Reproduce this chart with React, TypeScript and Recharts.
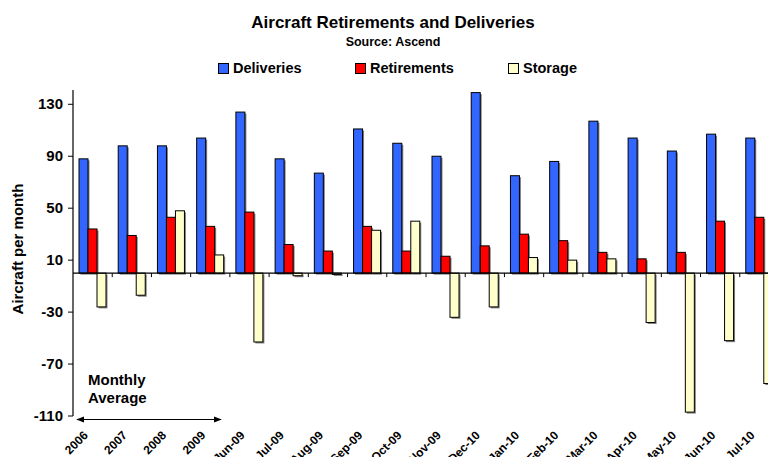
import React from "react";
import { BarChart, Bar, XAxis, YAxis, ReferenceLine } from "recharts";

// categorias (note: "Dec-10" is how the source labels it)
const categories = [
  "2006", "2007", "2008", "2009", "Jun-09", "Jul-09", "Aug-09", "Sep-09", "Oct-09",
  "Nov-09", "Dec-10", "Jan-10", "Feb-10", "Mar-10", "Apr-10", "May-10", "Jun-10", "Jul-10",
];
const deliveries = [88, 98, 98, 104, 124, 88, 77, 111, 100, 90, 139, 75, 86, 117, 104, 94, 107, 104];
const retirements = [34, 29, 43, 36, 47, 22, 17, 36, 17, 13, 21, 30, 25, 16, 11, 16, 40, 43];
const storage = [-26, -17, 48, 14, -53, -2, -1, 33, 40, -34, -26, 12, 10, 11, -38, -107, -52, -85];
const yTicks = [-110, -70, -30, 10, 50, 90, 130];

const FONT = "'Liberation Sans', Arial, sans-serif";

const data = categories.map((name, i) => ({
  name,
  deliveries: deliveries[i],
  retirements: retirements[i],
  storage: storage[i],
}));

const series = [
  { key: "deliveries", name: "Deliveries", color: "#3366FF" },
  { key: "retirements", name: "Retirements", color: "#FF0000" },
  { key: "storage", name: "Storage", color: "#FFFFCC" },
];

// barra com contorno preto e sombra cinza
const BoxBar = (props: any) => {
  const { x, y, width, height, fill } = props;
  const top = Math.min(y, y + height);
  const h = Math.abs(height);
  return (
    <g>
      <rect x={x + 1.5} y={top + 1.5} width={width} height={h} fill="#808080" />
      <rect x={x} y={top} width={width} height={h} fill={fill} stroke="#000" strokeWidth={1} />
    </g>
  );
};

// linha do zero com marcas entre as categorias
const ZeroLine = (props: any) => {
  const { x1, x2, y1 } = props;
  const step = (x2 - x1) / categories.length;
  return (
    <g>
      <line x1={x1} x2={x2} y1={y1} y2={y1} stroke="#000" strokeWidth={1.2} />
      {categories.map((_, i) => (
        <line key={i} x1={x1 + step * (i + 1)} x2={x1 + step * (i + 1)} y1={y1} y2={y1 + 4} stroke="#000" />
      ))}
    </g>
  );
};

const XTick = (props: any) => {
  const { x, y, payload } = props;
  const tx = x - 4;
  const ty = y + 20;
  return (
    <text x={tx} y={ty} textAnchor="end" fontFamily={FONT} fontWeight="bold" fontSize={12} fill="#000"
      transform={`rotate(-45, ${tx}, ${ty})`}>
      {payload.value}
    </text>
  );
};

const YTick = (props: any) => {
  const { x, y, payload } = props;
  return (
    <text x={x} y={y + 5} textAnchor="end" fontFamily={FONT} fontWeight="bold" fontSize={15} fill="#000">
      {payload.value}
    </text>
  );
};

const legendPos = [218, 355, 508];

export default function App() {
  return (
    <div style={{ margin: -8, width: 776, height: 465, overflow: "hidden", position: "relative", background: "#fff" }}>
      <BarChart width={779} height={465} data={data} margin={{ top: 90, right: 0, bottom: 0, left: 0 }}
        barGap={0} barSize={9}>
        <XAxis dataKey="name" axisLine={false} tickLine={false} tickSize={0} tickMargin={0} height={49}
          interval={0} tick={<XTick />} />
        <YAxis width={73} domain={[-110, 141]} ticks={yTicks} allowDataOverflow
          axisLine={{ stroke: "#000", strokeWidth: 1.2 }} tickLine={{ stroke: "#000" }} tickSize={5} tickMargin={5}
          tick={<YTick />} />
        {series.map((s) => (
          <Bar key={s.key} dataKey={s.key} name={s.name} fill={s.color} shape={<BoxBar />} isAnimationActive={false} />
        ))}
        <ReferenceLine y={0} shape={<ZeroLine />} ifOverflow="visible" />
      </BarChart>
      {series.map((s, i) => (
        <div key={s.key} style={{ position: "absolute", left: legendPos[i], top: 59, display: "flex", alignItems: "center",
          fontFamily: FONT, fontWeight: "bold", fontSize: 14.5, color: "#000", lineHeight: "18px" }}>
          <span style={{ display: "inline-block", width: 9, height: 9, background: s.color, border: "1px solid #000", marginRight: 4 }} />
          {s.name}
        </div>
      ))}
      <svg width={776} height={465} style={{ position: "absolute", left: 0, top: 0, pointerEvents: "none" }}>
        <defs>
          <marker id="ah" viewBox="0 0 10 10" refX="9" refY="5" markerWidth="8" markerHeight="8" orient="auto-start-reverse">
            <path d="M0,1 L10,5 L0,9 z" fill="#000" />
          </marker>
        </defs>
        <text x={393} y={28} textAnchor="middle" fontFamily={FONT} fontWeight="bold" fontSize={17}>
          Aircraft Retirements and Deliveries
        </text>
        <text x={393} y={46} textAnchor="middle" fontFamily={FONT} fontWeight="bold" fontSize={12.5}>
          Source: Ascend
        </text>
        <text x={19} y={249} textAnchor="middle" fontFamily={FONT} fontWeight="bold" fontSize={15}
          transform="rotate(-90, 19, 249)" dominantBaseline="middle">
          Aircraft per month
        </text>
        <text x={88} y={385} fontFamily={FONT} fontWeight="bold" fontSize={15}>Monthly</text>
        <text x={88} y={403} fontFamily={FONT} fontWeight="bold" fontSize={15}>Average</text>
        <line x1={77} x2={221} y1={419.5} y2={419.5} stroke="#000" strokeWidth={1}
          markerStart="url(#ah)" markerEnd="url(#ah)" />
      </svg>
    </div>
  );
}
